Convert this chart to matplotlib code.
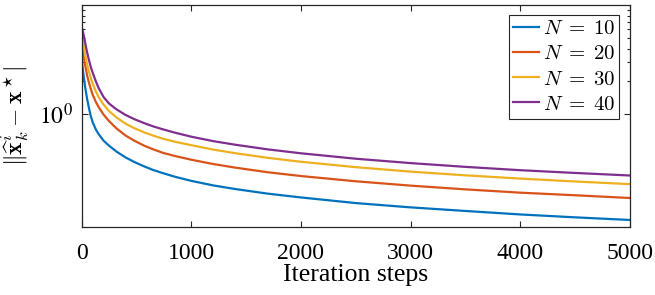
import numpy as np
import matplotlib
matplotlib.use("Agg")
import matplotlib.pyplot as plt
from matplotlib.ticker import FixedLocator, NullFormatter

plt.rcParams["font.family"] = ["Liberation Serif", "DejaVu Serif"]
plt.rcParams["mathtext.fontset"] = "cm"

# iteration steps at which the curves were read
steps = [0, 10, 20, 33, 50, 64, 82, 100, 130, 155, 200, 250, 320, 400, 480,
         577, 650, 735, 850, 1000, 1200, 1400, 1700, 2000, 2500, 3000, 3500,
         4000, 4500, 5000]

# error values for each network size
err_n10 = [3.176, 2.582, 2.132, 1.722, 1.362, 1.156, 0.958, 0.834, 0.711, 0.646,
           0.562, 0.505, 0.444, 0.394, 0.357, 0.323, 0.302, 0.283, 0.261, 0.239,
           0.217, 0.201, 0.182, 0.168, 0.149, 0.136, 0.126, 0.117, 0.110, 0.104]
err_n20 = [4.496, 3.873, 3.335, 2.754, 2.248, 1.970, 1.704, 1.499, 1.278, 1.149,
           0.979, 0.852, 0.726, 0.628, 0.562, 0.502, 0.469, 0.436, 0.406, 0.375,
           0.342, 0.317, 0.287, 0.265, 0.237, 0.216, 0.1995, 0.186, 0.176, 0.166]
err_n30 = [5.446, 4.742, 4.128, 3.407, 2.843, 2.501, 2.154, 1.896, 1.598, 1.421,
           1.211, 1.055, 0.918, 0.808, 0.734, 0.667, 0.628, 0.589, 0.550, 0.511,
           0.465, 0.431, 0.390, 0.359, 0.320, 0.291, 0.269, 0.251, 0.236, 0.223]
err_n40 = [6.324, 5.806, 5.219, 4.447, 3.671, 3.196, 2.724, 2.397, 1.978, 1.722,
           1.422, 1.238, 1.091, 0.973, 0.889, 0.812, 0.764, 0.719, 0.667, 0.612,
           0.557, 0.516, 0.467, 0.430, 0.383, 0.349, 0.322, 0.300, 0.283, 0.268]

labels = [r"$N\;=\;10$", r"$N\;=\;20$", r"$N\;=\;30$", r"$N\;=\;40$"]
colors = ["#0072BD", "#D95319", "#EDB120", "#7E2F8E"]

fig = plt.figure(figsize=(6.55, 2.95), dpi=100)
ax = fig.add_axes([0.1247, 0.2295, 0.837, 0.7536])

for y, lab, c in zip([err_n10, err_n20, err_n30, err_n40], labels, colors):
    ax.plot(steps, y, color=c, lw=1.6, label=lab, solid_joinstyle="round")

ax.set_yscale("log")
ax.set_xlim(0, 5000)
ax.set_ylim(0.089, 10.1)
ax.set_xticks([0, 1000, 2000, 3000, 4000, 5000])
ax.set_xticklabels(["0", "1000", "2000", "3000", "4000", "5000"])

ax.yaxis.set_major_locator(FixedLocator([1]))
ax.set_yticklabels([r"$10^0$"])
for t in ax.get_yticklabels():
    t.set_math_fontfamily("stix")
ax.yaxis.set_minor_locator(FixedLocator([2, 3, 4, 5, 6, 7, 8, 9]))
ax.yaxis.set_minor_formatter(NullFormatter())

ax.tick_params(which="both", direction="in", top=True, right=True,
               labelsize=17, color="#262626", width=0.8)
ax.tick_params(which="major", length=4)
ax.tick_params(which="minor", length=2.5)
ax.tick_params(axis="x", pad=11)
ax.tick_params(axis="y", pad=6)
for s in ax.spines.values():
    s.set_color("#262626")
    s.set_linewidth(0.9)

ax.set_xlabel("Iteration steps", fontsize=18.5, labelpad=0)
ax.set_ylabel(r"$\|\widehat{\mathbf{x}}_k^i - \mathbf{x}^\star|$", fontsize=17, labelpad=6)

leg = ax.legend(loc="upper right", fontsize=15, fancybox=False, edgecolor="#262626",
                framealpha=1, handlelength=1.25, handletextpad=0.2,
                borderaxespad=0.5, labelspacing=0.27, borderpad=0.2)
leg.get_frame().set_linewidth(0.8)

fig.savefig("out.png", dpi=100)
